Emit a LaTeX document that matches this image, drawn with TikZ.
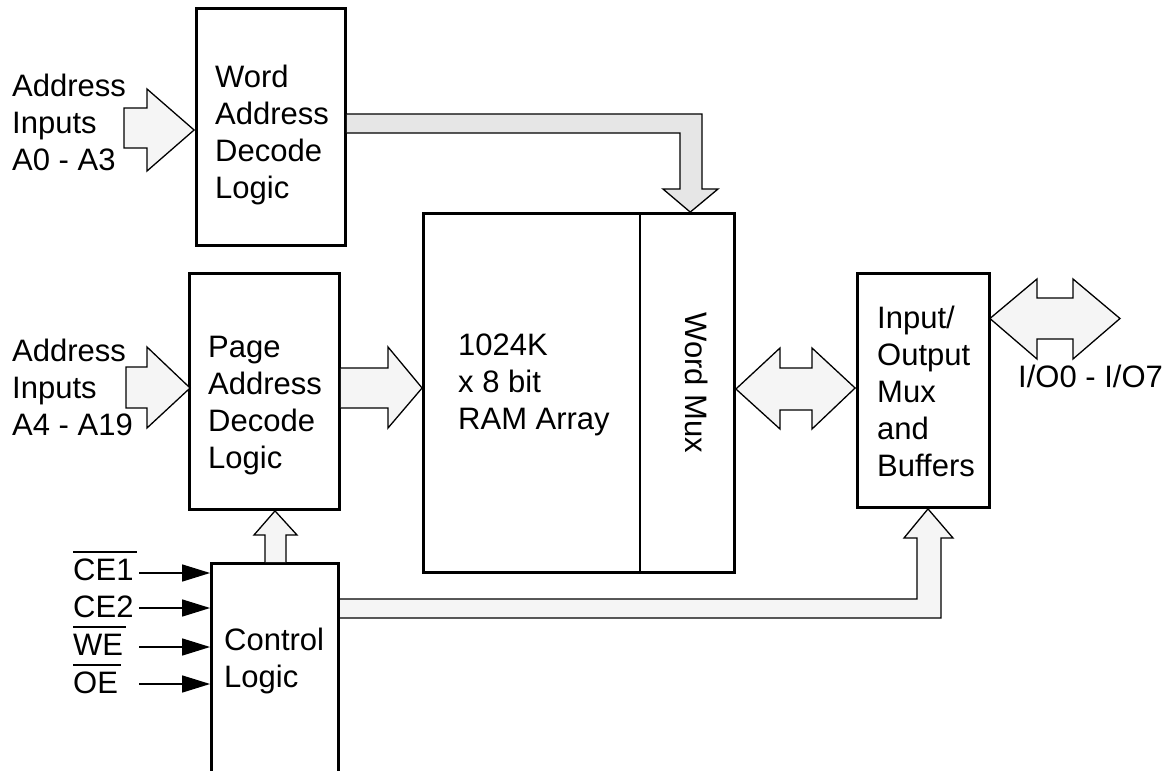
\documentclass[tikz,border=0pt]{standalone}
\usepackage{fontspec}
\setmainfont{Liberation Sans}
\usetikzlibrary{arrows.meta,calc}
\definecolor{busfill}{HTML}{F5F5F5}
\definecolor{busdark}{HTML}{E6E6E6}
\newcommand{\ovl}[1]{\vbox{\hrule height 1.8pt\kern 5.5pt\hbox{#1\kern3pt}}}
\begin{document}
\begin{tikzpicture}[x=1pt,y=-1pt,
  blk/.style={draw, line width=2.8pt, inner sep=0pt},
  txt/.style={anchor=base west, align=left, inner sep=0pt, font=\fontsize{31}{36.8}\selectfont},
  bus/.style={draw, line width=1.3pt, fill=busfill, line join=miter},
  sig/.style={line width=1.4pt, -{Triangle[length=28pt,width=17pt]}}]
\clip (0,0) rectangle (1171,771);
\fill[white] (0,0) rectangle (1171,771);
% blocks
\node[blk, minimum width=149pt, minimum height=237pt] (word) at (271,127) {};
\node[blk, minimum width=150pt, minimum height=236pt] (page) at (264.5,391.5) {};
\node[blk, minimum width=216.5pt, minimum height=359pt] (ram) at (531.75,393) {};
\node[blk, minimum width=94.5pt, minimum height=359pt] (mux) at (687.25,393) {};
\node[blk, minimum width=132pt, minimum height=234pt] (io) at (923.5,390.5) {};
\node[blk, minimum width=127pt, minimum height=300pt] (ctrl) at (275,713.5) {};
% texts (anchor = baseline of the last line)
\node[txt] (tA0) at (12,170) {Address\\Inputs\\A0 - A3};
\node[txt] (tword) at (215,198) {Word\\Address\\Decode\\Logic};
\node[txt] (tA4) at (12,435) {Address\\Inputs\\A4 - A19};
\node[txt] (tpage) at (208,468) {Page\\Address\\Decode\\Logic};
\node[txt] (tram) at (458,429) {1024K\\x 8 bit\\RAM Array};
\node[txt, anchor=center, rotate=-90] (tmux) at (697,383) {Word Mux};
\node[txt] (tio) at (877,476) {Input/\\Output\\Mux\\and\\Buffers};
\node[txt] (tiol) at (1018,387) {I/O0 - I/O7};
\node[txt] (tctrl) at (224,687) {Control\\Logic};
\node[txt] (lce1) at (73,580) {\ovl{CE1}};
\node[txt] (lce2) at (73,617) {CE2};
\node[txt] (lwe) at (73,655) {\ovl{WE}};
\node[txt] (loe) at (73,693) {\ovl{OE}};
% control signals
\coordinate (s1) at (139,573);
\coordinate (s2) at (139,608);
\coordinate (s3) at (139,647);
\coordinate (s4) at (139,684);
\draw[sig] (s1) -- (s1 -| ctrl.west);
\draw[sig] (s2) -- (s2 -| ctrl.west);
\draw[sig] (s3) -- (s3 -| ctrl.west);
\draw[sig] (s4) -- (s4 -| ctrl.west);
% bus arrows
\path[bus] (124,108) -- (147,108) -- (147,89) -- ($(word.west)+(-1,3)$) -- (147,171) -- (147,148) -- (124,148) -- cycle;
\path[bus] (126,367) -- (147,367) -- (147,347) -- ($(page.west)+(2,-3.5)$) -- (147,428) -- (147,408) -- (126,408) -- cycle;
\path[bus] (page.east |- 0,368) -- (388,368) -- (388,347) -- ($(ram.west)+(0,-5)$) -- (388,428) -- (388,408) -- (page.east |- 0,408);
\path[bus, fill=busdark] (word.east |- 0,114) -- (702,114) -- (702,189) -- (718,189) -- ($(mux.north)+(3,0)$) -- (663,189) -- (680,189) -- (680,133) -- (word.east |- 0,133);
\path[bus] ($(mux.east)+(0,-4)$) -- (780,348) -- (780,368) -- (812,368) -- (812,348) -- ($(io.west)+(-1,-2.5)$) -- (812,429) -- (812,410) -- (780,410) -- (780,429) -- cycle;
\path[bus] ($(io.east)+(-1,-72)$) -- (1037,279) -- (1037,298) -- (1073,298) -- (1073,279) -- (1120,318.5) -- (1073,359) -- (1073,339) -- (1037,339) -- (1037,359) -- cycle;
\path[bus] (265,562) -- (265,535) -- (254,535) -- (page.south -| ctrl.north) -- (297,535) -- (286,535) -- (286,562);
\path[bus] (340,599) -- (917,599) -- (917,538) -- (904,538) -- ($(io.south)+(4.5,0)$) -- (953,538) -- (941,538) -- (941,618) -- (340,618);
\end{tikzpicture}
\end{document}
